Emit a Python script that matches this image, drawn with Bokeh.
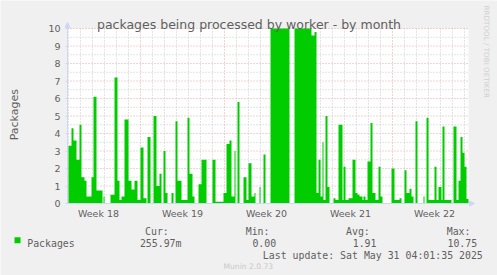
import math
from bokeh.plotting import figure
from bokeh.models import FixedTicker, Label, Range1d, Arrow, NormalHead, LinearAxis
from bokeh.embed import file_html
from bokeh.resources import INLINE

# ---- data: hours since start of the month window (2-hour samples) ----
seg_start_h = [0, 2, 8, 12, 18, 24, 28, 34, 38, 48, 52, 58, 70, 72, 74, 86, 94, 100,
               104, 108, 114, 122, 128, 134, 140, 146, 152, 158, 160, 166, 172, 178,
               184, 188, 192, 196, 200, 208, 212, 216, 220, 228, 240, 244, 250, 254,
               262, 268, 278, 290, 296, 312, 318, 324, 328, 334, 336, 340, 344, 352,
               358, 362, 368, 374, 376, 384, 386, 392, 396, 406, 444, 454, 488, 494,
               498, 502, 506, 510, 512, 516, 520, 524, 532, 536, 542, 550, 552, 556,
               562, 570, 576, 580, 584, 590, 592, 596, 600, 606, 610, 616, 622, 626,
               630, 648, 654, 664, 668, 674, 678, 684, 688, 692, 696, 700, 712, 714,
               718, 722, 734, 738, 742, 748, 750, 754, 768, 772, 778, 782, 786, 790,
               794, 798]
packages = [0, 3.3, 4.3, 3.6, 2.5, 4.5, 1.5, 1.3, 0.4, 1.5, 6.1, 0.75, 0, 0.4, 0, 0.5, 7.2, 1.3,
            0.2, 0.4, 4.8, 1.3, 0.8, 1.3, 0.2, 3.2, 0.3, 0, 3.8, 0, 5.0, 1.0,
            1.7, 0, 3.0, 0.6, 0, 0.6, 0, 4.7, 1.3, 0.2, 4.9, 1.7, 0.4, 0,
            1.1, 2.5, 0, 2.5, 0.1, 0.6, 3.4, 3.6, 0.4, 3.0, 0, 5.8, 0, 1.5,
            0.2, 2.3, 0.4, 0.6, 0, 0.95, 0, 2.8, 0, 10.75, 0, 10.75, 9.6, 9.8,
            0.6, 2.5, 0.4, 3.5, 0.2, 5.0, 0.95, 0, 0.3, 0.2, 4.5, 0.2, 2.1, 0.2,
            0.3, 2.5, 0.6, 0.5, 0.4, 0.2, 0.4, 0.2, 2.4, 4.6, 0.6, 0.2, 2.1, 0.4,
            0, 2.0, 0.2, 0.3, 0, 1.9, 0.6, 0.85, 0.4, 0, 4.7, 0, 0.4, 0,
            4.9, 0.2, 2.1, 0.2, 0.95, 0.2, 4.4, 0.2, 0, 4.4, 0.2, 1.3, 3.8, 2.9,
            2.1, 0.26]
window_end_h = 802
week_start_h = [146, 314, 482, 650]
week_center_h = [62, 230, 398, 566, 734]
week_labels = ["Week 18", "Week 19", "Week 20", "Week 21", "Week 22"]
y_ticks = [0, 1, 2, 3, 4, 5, 6, 7, 8, 9, 10]
stat_names = ["Cur:", "Min:", "Avg:", "Max:"]
stat_values = ["255.97m", "0.00", "1.91", "10.75"]
y_max = 10

# ---- layout (canvas pixels) ----
W, H = 497, 275
FL, FR, FT, FB = 67, 468, 28, 203
PX_PER_H = (FR - FL) / window_end_h
PX_PER_Y = (FB - FT) / y_max


def dx(px):
    return (px - FL) / PX_PER_H


def dy(py):
    return (FB - py) / PX_PER_Y


GREEN = "#00cc00"
FONT_C = "#606060"
AXIS_C = "#CFD6F8"
MGRID = "#e6a9a9"
GRID = "#c8c8c8"

p = figure(width=W, height=H, output_backend="svg", toolbar_location=None,
           title=None, x_axis_type=None, y_axis_type=None,
           x_range=Range1d(dx(0), dx(W)), y_range=Range1d(dy(H), dy(0)),
           min_border=0, min_border_left=0, min_border_right=0,
           min_border_top=0, min_border_bottom=0)
p.background_fill_color = "#f0f0f0"
p.border_fill_color = "#f0f0f0"
p.outline_line_color = None

# white canvas of the graph
p.quad(left=[0], right=[window_end_h], bottom=[0], top=[y_max],
       fill_color="#ffffff", line_color=None)

# grid lines (minor first, then major)
day_ticks = [h for h in range(2, window_end_h, 24) if h not in week_start_h]
half_ticks = [t + 0.5 for t in y_ticks[:-1]]
p.segment(x0=day_ticks, x1=day_ticks, y0=0, y1=y_max, line_color=GRID,
          line_dash="1 2", line_width=1)
p.segment(x0=0, x1=window_end_h, y0=half_ticks, y1=half_ticks, line_color=GRID,
          line_dash="1 2", line_width=1)
p.segment(x0=week_start_h, x1=week_start_h, y0=0, y1=y_max, line_color=MGRID,
          line_dash="1 2", line_width=1)
p.segment(x0=0, x1=window_end_h, y0=y_ticks[1:], y1=y_ticks[1:], line_color=MGRID,
          line_dash="1 2", line_width=1)

# data area (step shape, clipped to the graph top like rrdtool does)
ends = seg_start_h[1:] + [window_end_h]
xs, ys = [], []
for s, e, v in zip(seg_start_h, ends, packages):
    xs += [s, e]
    ys += [min(v, y_max), min(v, y_max)]
p.varea(x=xs, y1=0, y2=ys, fill_color=GREEN)

# axes at fixed locations
yax = LinearAxis(fixed_location=0, ticker=FixedTicker(ticks=y_ticks), bounds=(0, y_max))
yax.axis_line_color = AXIS_C
yax.major_tick_line_color = AXIS_C
yax.major_tick_out = 2
yax.major_tick_in = 0
yax.minor_tick_line_color = None
yax.major_label_text_font = "DejaVu Sans"
yax.major_label_text_font_size = "9.5px"
yax.major_label_text_color = FONT_C
yax.major_label_standoff = 5
p.add_layout(yax, "left")

xax = LinearAxis(fixed_location=0, ticker=FixedTicker(ticks=week_center_h),
                 bounds=(0, window_end_h))
xax.major_label_overrides = {c: l for c, l in zip(week_center_h, week_labels)}
xax.axis_line_color = AXIS_C
xax.major_tick_line_color = None
xax.major_tick_out = 0
xax.major_tick_in = 0
xax.minor_tick_line_color = None
xax.minor_tick_out = 0
xax.major_label_text_font = "DejaVu Sans"
xax.major_label_text_font_size = "9.5px"
xax.major_label_text_color = FONT_C
xax.major_label_standoff = 4
p.add_layout(xax, "below")

# arrows at axis ends
p.add_layout(Arrow(end=NormalHead(size=5, fill_color=AXIS_C, line_color=AXIS_C),
                   x_start=0, y_start=0, x_end=dx(FR + 6), y_end=0,
                   line_color=AXIS_C, line_width=1))
p.add_layout(Arrow(end=NormalHead(size=5, fill_color=AXIS_C, line_color=AXIS_C),
                   x_start=0, y_start=0, x_end=0, y_end=dy(FT - 6),
                   line_color=AXIS_C, line_width=1))


def txt(cx, cy, s, size, font="DejaVu Sans", color=FONT_C, align="left",
        baseline="alphabetic", angle=0.0):
    p.add_layout(Label(x=dx(cx), y=dy(cy), text=s, text_font_size=size,
                       text_font=font, text_color=color, text_align=align,
                       text_baseline=baseline, angle=angle))


MONO = "DejaVu Sans Mono"
txt(248.5, 24.3, "packages being processed by worker - by month", "12.5px",
    align="center")
txt(13.7, 114.2, "Packages", "11px", align="center", angle=math.pi / 2)
txt(485.5, 5, "RRDTOOL / TOBI OETIKER", "7.2px", color="#d0d0d0",
    align="left", baseline="middle", angle=-math.pi / 2)

# legend
p.quad(left=[dx(14)], right=[dx(20)], bottom=[dy(242.7)], top=[dy(236.7)],
       fill_color=GREEN, line_color=None)
txt(26.7, 242.7, "Packages", "9.9px", font=MONO)
head_right = [168.3, 269, 369.3, 470]
val_right = [181, 275.7, 376, 476.7]
for n, v, hr, vr in zip(stat_names, stat_values, head_right, val_right):
    txt(hr, 230.7, n, "9.9px", font=MONO, align="right")
    txt(vr, 242.7, v, "9.9px", font=MONO, align="right")
txt(482.3, 255, "Last update: Sat May 31 04:01:35 2025", "9.9px", font=MONO,
    align="right")
txt(247.8, 266, "Munin 2.0.73", "7.6px", color="#c8c8c8", align="center")

open("out.html", "w").write(file_html(p, INLINE))
